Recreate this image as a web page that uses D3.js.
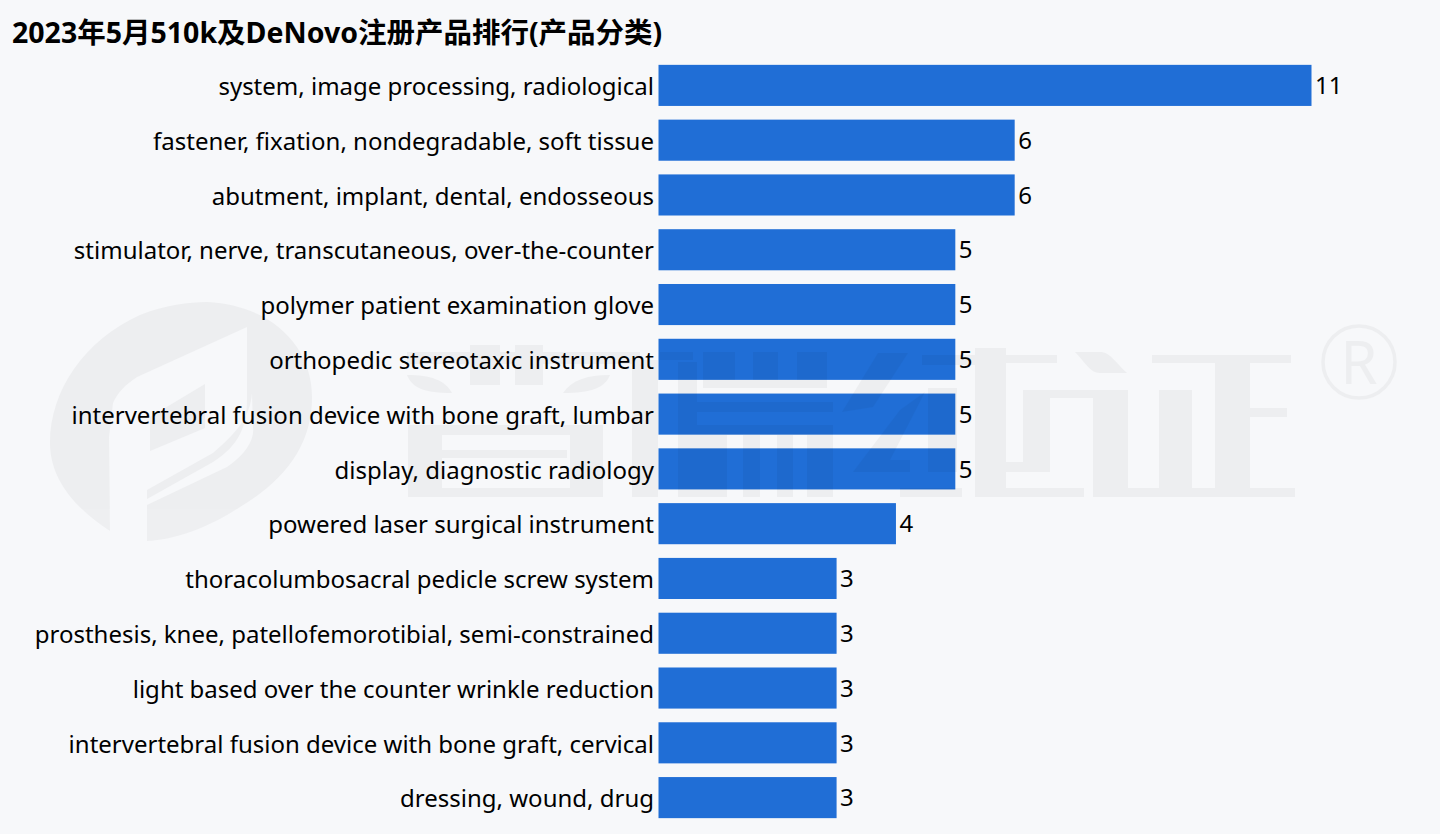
<!DOCTYPE html>
<html>
<head>
<meta charset="utf-8">
<script src="https://cdn.jsdelivr.net/npm/d3@7"></script>
<style>
html, body { margin: 0; padding: 0; background: #f7f8fa; }
text { font-family: "Noto Sans", "Noto Sans CJK SC", sans-serif; fill: #000; }
</style>
</head>
<body>
<div id="chart-area"></div>
<script>
var categories = [
	"system, image processing, radiological",
	"fastener, fixation, nondegradable, soft tissue",
	"abutment, implant, dental, endosseous",
	"stimulator, nerve, transcutaneous, over-the-counter",
	"polymer patient examination glove",
	"orthopedic stereotaxic instrument",
	"intervertebral fusion device with bone graft, lumbar",
	"display, diagnostic radiology",
	"powered laser surgical instrument",
	"thoracolumbosacral pedicle screw system",
	"prosthesis, knee, patellofemorotibial, semi-constrained",
	"light based over the counter wrinkle reduction",
	"intervertebral fusion device with bone graft, cervical",
	"dressing, wound, drug"
];
var counts = [11, 6, 6, 5, 5, 5, 5, 5, 4, 3, 3, 3, 3, 3];
var chartTitle = "2023年5月510k及DeNovo注册产品排行(产品分类)";

var svg = d3.select("#chart-area").append("svg")
	.attr("width", 1440)
	.attr("height", 834)
	.style("display", "block");

//scales
var x = d3.scaleLinear().domain([0, 11]).range([658.5, 1311.5]);
var y = d3.scaleBand().domain(categories).range([58, 825]).paddingInner(0.25).paddingOuter(0.125);

//bars
svg.selectAll("rect.bar").data(counts).enter().append("rect")
	.attr("class", "bar")
	.attr("x", x(0))
	.attr("y", (d, i) => y(categories[i]))
	.attr("width", d => x(d) - x(0))
	.attr("height", y.bandwidth())
	.attr("fill", "#206ed6");

//watermark logo, sits on top of the bars and darkens them a little
var mark = svg.append("g").attr("opacity", 0.037);

//leaf shape
mark.append("path")
	.attr("d", "M110 531 C70 505 50 475 50 443 C50 390 85 340 140 315 C165 305 190 302 207 302 C270 305 312 345 312 397 C312 445 285 480 240 507 C210 527 175 540 147 541 L147 505 L227 467 C245 455 255 440 253 427 L252 393 L252 393 C250 415 240 430 213 453 L147 490 L147 499 L213 462 C240 445 247 425 247 400 L247 327 L137 377 C125 385 118 392 113 403 L109 437 Z");
mark.append("path").attr("d", "M205 384 L205 428 L150 451 L150 417 Z");

//company name strokes, a logo picture in the original so drawn as blocks
var nameStrokes = [
	//first character
	[407, 352, 233, 12], [470, 345, 30, 40], [515, 345, 28, 40],
	[408, 425, 34, 72], [408, 425, 195, 10], [408, 488, 195, 9], [570, 425, 33, 72], [442, 450, 125, 8],
	//second character
	[632, 360, 26, 137], [660, 352, 33, 8], [703, 352, 32, 36], [753, 352, 25, 36], [797, 352, 30, 36], [703, 380, 124, 8],
	[678, 402, 155, 10], [678, 425, 155, 10], [678, 362, 19, 135], [697, 435, 30, 62], [743, 435, 17, 62], [777, 435, 16, 62], [807, 435, 26, 62],
	//third character
	[922, 355, 58, 10], [928, 388, 29, 84], [900, 488, 62, 9],
	//fourth character
	[975, 348, 31, 149], [1006, 355, 51, 8], [1023, 390, 27, 82], [1023, 390, 104, 8], [1093, 390, 35, 107],
	[1006, 462, 44, 10], [975, 488, 109, 9], [1093, 488, 202, 9], [1159, 390, 33, 98], [1215, 363, 35, 125],
	[1152, 355, 139, 8], [1250, 408, 37, 9]
];
mark.selectAll("rect").data(nameStrokes).enter().append("rect")
	.attr("x", d => d[0])
	.attr("y", d => d[1])
	.attr("width", d => d[2])
	.attr("height", d => d[3]);
mark.append("path").attr("d", "M407 375 C430 375 445 380 452 393 C425 393 412 388 407 375 Z");
mark.append("path").attr("d", "M610 375 C587 375 572 380 563 393 C590 393 605 388 610 375 Z");
mark.append("path").attr("d", "M1075 352 L1100 352 C1110 352 1115 362 1127 373 L1100 373 C1090 373 1085 362 1075 352 Z");
mark.append("path").attr("d", "M878 353 L908 353 L873 407 L842 412 Z");
mark.append("path").attr("d", "M900 410 L925 392 L890 460 L910 460 L910 472 L853 472 Z");

mark.append("circle")
	.attr("cx", 1359).attr("cy", 362).attr("r", 36)
	.attr("fill", "none").attr("stroke", "#000").attr("stroke-width", 3.5);
mark.append("text")
	.attr("x", 1359).attr("y", 384)
	.attr("text-anchor", "middle")
	.attr("font-size", 60)
	.text("R");

//category labels
var yAxisCall = d3.axisLeft(y).tickSize(0).tickPadding(5);
var yAxisGroup = svg.append("g")
	.attr("transform", "translate(659,2)")
	.call(yAxisCall);
yAxisGroup.select(".domain").remove();
yAxisGroup.selectAll("text")
	.attr("font-size", 24)
	.style("font-family", '"Noto Sans", sans-serif');

//value labels
svg.selectAll("text.value").data(counts).enter().append("text")
	.attr("class", "value")
	.attr("x", d => x(d) + 3.5)
	.attr("y", (d, i) => y(categories[i]) + y.bandwidth() / 2 + 1)
	.attr("dy", "0.32em")
	.attr("font-size", 24)
	.text(d => d);

svg.append("text")
	.attr("x", 12)
	.attr("y", 43)
	.attr("font-size", 28.5)
	.attr("font-weight", 700)
	.text(chartTitle);
</script>
</body>
</html>
